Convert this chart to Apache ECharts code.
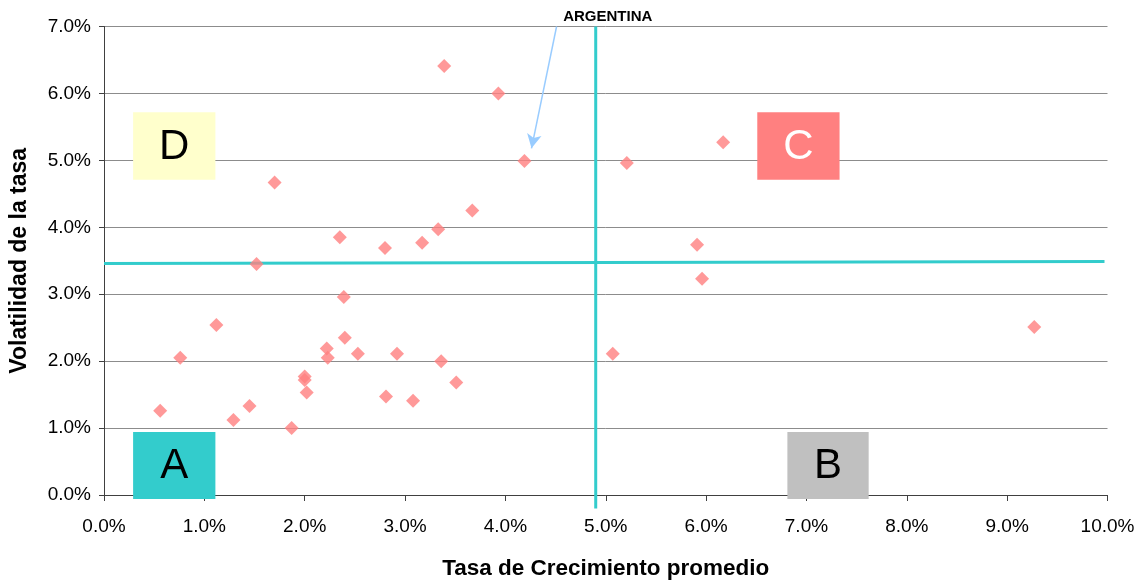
<!DOCTYPE html>
<html>
<head>
<meta charset="utf-8">
<script src="https://cdn.jsdelivr.net/npm/echarts@6/dist/echarts.min.js"></script>
<style>
html,body{margin:0;padding:0;background:#fff;overflow:hidden;}
#chart{width:1139px;height:585px;}
</style>
</head>
<body>
<div id="chart"></div>
<script>
// Growth rate (%) and volatility (%) per country
const growth = [3.39, 3.93, 4.19, 1.70, 3.67, 2.35, 2.80, 3.17, 3.33, 1.52,
  2.39, 1.12, 0.76, 2.40, 2.22, 2.23, 2.53, 2.92, 3.36, 2.00,
  2.00, 2.02, 3.51, 2.81, 3.08, 1.45, 1.29, 0.56, 1.87,
  5.21, 6.17, 5.91, 5.96, 5.07, 9.27];
const volatility = [6.41, 6.00, 4.99, 4.67, 4.25, 3.85, 3.69, 3.77, 3.97, 3.45,
  2.96, 2.54, 2.05, 2.35, 2.19, 2.05, 2.11, 2.11, 2.00, 1.77,
  1.72, 1.53, 1.68, 1.47, 1.41, 1.33, 1.12, 1.26, 1.00,
  4.96, 5.27, 3.74, 3.23, 2.11, 2.51];
const avgGrowth = 4.90;
const avgVolatilityStart = 3.46;
const avgVolatilityEnd = 3.49;
const quadrantLabels = ['D', 'C', 'A', 'B'];
const xTicks = [0,1,2,3,4,5,6,7,8,9,10];
const yTicks = [0,1,2,3,4,5,6,7];
const highlightLabel = 'ARGENTINA';

const FONT = "'Liberation Sans', Arial, sans-serif";
const points = growth.map((g, i) => [g, volatility[i]]);

// box geometry & styles for quadrant labels (data units)
const boxStyle = {
  D: {x0: 0.29, x1: 1.11, y0: 4.71, y1: 5.72, fill: '#FFFFCC', color: '#000'},
  C: {x0: 6.51, x1: 7.33, y0: 4.71, y1: 5.72, fill: '#FF8080', color: '#fff'},
  A: {x0: 0.29, x1: 1.11, y0: -0.06, y1: 0.94, fill: '#33CCCC', color: '#000'},
  B: {x0: 6.81, x1: 7.62, y0: -0.06, y1: 0.94, fill: '#C0C0C0', color: '#000'}
};
// annotation anchor (data units)
const annoText = [5.02, 7.14];

const chart = echarts.init(document.getElementById('chart'));
chart.setOption({
  animation: false,
  backgroundColor: '#fff',
  grid: {left: 103.5, right: 31.5, top: 26.5, bottom: 86.5, containLabel: false},
  xAxis: {
    type: 'value', min: xTicks[0], max: xTicks[xTicks.length-1], interval: 1,
    name: 'Tasa de Crecimiento promedio', nameLocation: 'middle', nameGap: 62,
    nameTextStyle: {fontFamily: FONT, fontSize: 22.5, fontWeight: 'bold', color: '#000'},
    axisLine: {lineStyle: {color: '#404040', width: 1}},
    axisTick: {show: true, length: 6, lineStyle: {color: '#404040'}},
    axisLabel: {margin: 22, fontFamily: FONT, fontSize: 19, color: '#000',
      formatter: v => v.toFixed(1) + '%'},
    splitLine: {show: false}
  },
  yAxis: {
    type: 'value', min: yTicks[0], max: yTicks[yTicks.length-1], interval: 1,
    name: 'Volatilidad de la tasa', nameLocation: 'middle', nameGap: 73,
    nameTextStyle: {fontFamily: FONT, fontSize: 23, fontWeight: 'bold', color: '#000'},
    axisLine: {show: true, lineStyle: {color: '#404040', width: 1}},
    axisTick: {show: true, length: 5, lineStyle: {color: '#404040'}},
    axisLabel: {margin: 13, fontFamily: FONT, fontSize: 19, color: '#000',
      padding: [5, 0, 0, 0],
      formatter: v => v.toFixed(1) + '%'},
    splitLine: {show: true, lineStyle: {color: '#8c8c8c', width: 1}}
  },
  series: [
    {
      type: 'custom',
      z: 2,
      clip: false,
      silent: true,
      data: quadrantLabels.map((q, i) => [i]),
      renderItem: function (params, api) {
        const q = quadrantLabels[api.value(0)];
        const b = boxStyle[q];
        const p0 = api.coord([b.x0, b.y1]);
        const p1 = api.coord([b.x1, b.y0]);
        return {
          type: 'group',
          children: [
            {type: 'rect', shape: {x: p0[0], y: p0[1], width: p1[0]-p0[0], height: p1[1]-p0[1]},
             style: {fill: b.fill}},
            {type: 'text', style: {text: q, x: (p0[0]+p1[0])/2, y: (p0[1]+p1[1])/2 + 1,
             align: 'center', verticalAlign: 'middle',
             font: '42px ' + FONT, fill: b.color}}
          ]
        };
      }
    },
    {
      type: 'custom',
      z: 5,
      clip: false,
      silent: true,
      data: [[0]],
      renderItem: function (params, api) {
        const p = api.coord(annoText);
        return {type: 'text', style: {text: highlightLabel, x: p[0], y: p[1],
          align: 'center', verticalAlign: 'middle',
          font: 'bold 15px ' + FONT, fill: '#000'}};
      }
    },
    {
      type: 'line', z: 3, clip: false, symbol: 'none', silent: true,
      lineStyle: {color: '#33CCCC', width: 3},
      data: [[avgGrowth, 7], [avgGrowth, -0.2]]
    },
    {
      type: 'line', z: 3, clip: false, symbol: 'none', silent: true,
      lineStyle: {color: '#33CCCC', width: 3},
      data: [[0, avgVolatilityStart], [9.97, avgVolatilityEnd]],
      markLine: {
        silent: true,
        symbol: ['none', 'arrow'],
        symbolSize: [11, 14],
        lineStyle: {color: '#99CCFF', width: 1.5, type: 'solid'},
        label: {show: false},
        data: [[{coord: [4.51, 7.0]}, {coord: [4.26, 5.18]}]]
      }
    },
    {
      type: 'scatter', z: 4,
      symbol: 'diamond', symbolSize: 14,
      itemStyle: {color: '#FF8080'},
      data: points
    }
  ]
});
</script>
</body>
</html>
